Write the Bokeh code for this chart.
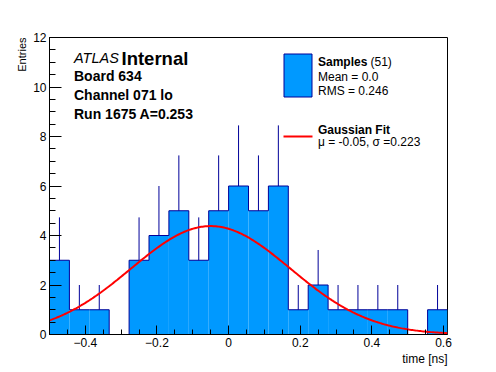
import numpy as np
from bokeh.plotting import figure
from bokeh.models import Label, FixedTicker, Range1d, Title
from bokeh.embed import file_html
from bokeh.resources import INLINE

# ---- data ----
x_min, x_max, n_bins = -0.5, 0.6111, 20
counts = [3, 1, 1, 0, 3, 4, 5, 3, 5, 6, 5, 6, 1, 2, 1, 1, 1, 1, 0, 1]
fit_amp, fit_mu, fit_sigma = 4.38, -0.05, 0.223
x_ticks = [-0.4, -0.2, 0, 0.2, 0.4, 0.6]
x_tick_labels = ["\u22120.4", "\u22120.2", "0", "0.2", "0.4", "0.6"]
y_ticks = [0, 2, 4, 6, 8, 10, 12]
info_lines = ["Board 634", "Channel 071 lo", "Run 1675 A=0.253"]
legend_samples = ["Mean = 0.0", "RMS = 0.246"]
legend_fit = "\u03bc = -0.05, \u03c3 =0.223"

FILL = "#0099ff"
EDGE = "#000099"
FONT = "Liberation Sans"

W, H = 496, 372
ML, MR, MT, MB = 49, 49, 37, 38

p = figure(width=W, height=H, output_backend="svg", toolbar_location=None,
           x_range=Range1d(x_min, x_max), y_range=Range1d(0, 12),
           min_border_left=ML, min_border_right=MR, min_border_top=MT, min_border_bottom=MB)
p.background_fill_color = "white"
p.border_fill_color = "white"
p.outline_line_color = "black"
p.outline_line_width = 1
p.grid.visible = False

# helpers: image pixel -> data
FW = W - ML - MR
FH = H - MT - MB
SX = FW / (x_max - x_min)
SY = FH / 12.0
def dx(px):
    return x_min + (px - ML) / SX
def dy(py):
    return ((MT + FH) - py) / SY

edges = np.linspace(x_min, x_max, n_bins + 1)
c = np.array(counts, dtype=float)
centers = 0.5 * (edges[:-1] + edges[1:])

p.quad(left=edges[:-1], right=edges[1:], bottom=0, top=c,
       fill_color=FILL, line_color=None)
p.step(x=edges, y=np.append(c, c[-1]), mode="after", line_color=EDGE, line_width=1)
m = c > 0
p.segment(x0=centers[m], y0=c[m], x1=centers[m], y1=c[m] + np.sqrt(c[m]),
          line_color=EDGE, line_width=1)

xf = np.linspace(x_min, x_max, 300)
yf = fit_amp * np.exp(-0.5 * ((xf - fit_mu) / fit_sigma) ** 2)
p.line(xf, yf, line_color="#ff0000", line_width=2)

# axes
for ax in (p.xaxis, p.yaxis):
    ax.axis_line_color = "black"
    ax.major_tick_line_color = "black"
    ax.minor_tick_line_color = "black"
    ax.major_tick_out = 0
    ax.minor_tick_out = 0
    ax.major_label_text_font = FONT
    ax.major_label_text_font_size = "12px"
    ax.major_label_text_color = "black"
p.xaxis.ticker = FixedTicker(ticks=x_ticks, minor_ticks=list(np.round(np.arange(-0.5, 0.61, 0.05), 3)))
p.xaxis.major_label_overrides = {t: l for t, l in zip(x_ticks, x_tick_labels)}
p.xaxis.major_tick_in = 9
p.xaxis.minor_tick_in = 5
p.xaxis.major_label_standoff = 3
p.yaxis.ticker = FixedTicker(ticks=y_ticks, minor_ticks=list(np.arange(0, 12.01, 0.5)))
p.yaxis.major_tick_in = 12
p.yaxis.minor_tick_in = 6
p.yaxis.major_label_standoff = 3

# axis titles (as side titles so they can be end-aligned)
p.add_layout(Title(text="time [ns]", align="right", text_font=FONT, text_font_size="12px",
                   text_font_style="normal", text_color="black", standoff=0), "below")
p.add_layout(Title(text="Entries", align="right", text_font=FONT, text_font_size="11px",
                   text_font_style="normal", text_color="black", standoff=6), "left")

def lab(px, py, text, size, style="normal"):
    p.add_layout(Label(x=dx(px), y=dy(py), text=text, text_font=FONT,
                       text_font_style=style, text_font_size=size, text_color="black",
                       text_baseline="middle", text_align="left"))

# ATLAS label
lab(73.5, 57.8, "ATLAS", "14.5px", "italic")
lab(121, 57.8, "Internal", "18.5px", "bold")
for t, yy in zip(info_lines, [75.5, 94.5, 113.5]):
    lab(73.5, yy, t, "14px", "bold")

# legend
p.quad(left=dx(283.5), right=dx(311.5), top=dy(53.5), bottom=dy(96.5),
       fill_color=FILL, line_color=EDGE, line_width=1)
lab(317.5, 61.5, "Samples", "12px", "bold")
lab(370, 61.5, "(51)", "12px")
for t, yy in zip(legend_samples, [76.7, 90.2]):
    lab(317.5, yy, t, "12px")
p.line(x=[dx(283), dx(312)], y=[dy(136), dy(136)], line_color="#ff0000", line_width=2)
lab(317.5, 129.5, "Gaussian Fit", "12px", "bold")
lab(317.5, 141.7, legend_fit, "12px")

open("out.html", "w").write(file_html(p, INLINE))
